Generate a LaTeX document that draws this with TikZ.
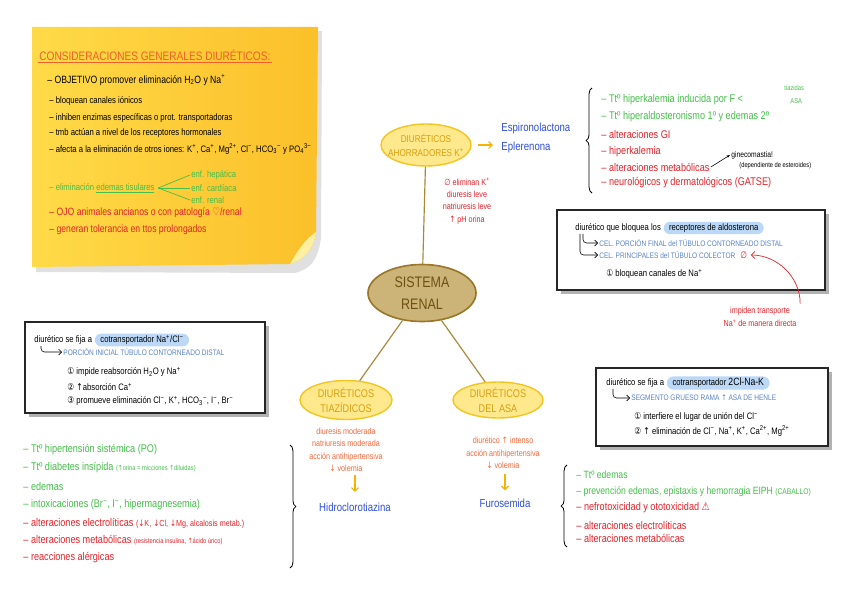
\documentclass[tikz,border=0pt]{standalone}
\usepackage{fontspec}
\setmainfont{Liberation Sans}[FakeStretch=0.82]
\newfontfamily\symf{DejaVu Sans}[FakeStretch=0.82]
\usepackage{tikz}
\usetikzlibrary{arrows.meta,positioning,shapes.geometric,shapes.misc,shadows,decorations.pathreplacing}
\definecolor{stickyA}{HTML}{FFDA48}
\definecolor{stickyB}{HTML}{FBC02A}
\definecolor{stickyC}{HTML}{FFEFA0}
\definecolor{titC}{HTML}{F0602A}
\definecolor{grnC}{HTML}{45BE4A}
\definecolor{redC}{HTML}{E2232A}
\definecolor{orgC}{HTML}{F26A3C}
\definecolor{bluC}{HTML}{2F4FD6}
\definecolor{boxB}{HTML}{5A84C6}
\definecolor{hlC}{HTML}{BBD8F6}
\definecolor{ellF}{HTML}{FFE98C}
\definecolor{ellD}{HTML}{F6C420}
\definecolor{ellT}{HTML}{D8A010}
\definecolor{sisF}{HTML}{CCB479}
\definecolor{sisD}{HTML}{9A7628}
\definecolor{sisT}{HTML}{6E5012}
\definecolor{lineC}{HTML}{A8893A}
\definecolor{arrY}{HTML}{F6B400}
\newcommand{\sy}[1]{{\symf #1}}
\newcommand{\supx}[1]{\textsuperscript{#1}}
\newcommand{\subx}[1]{\textsubscript{#1}}
\tikzset{
  hw/.style={anchor=west,inner sep=1pt,font=\fontsize{8}{10}\selectfont},
  item/.style={anchor=west,inner sep=1pt,font=\fontsize{9.5}{11}\selectfont},
  cel/.style={anchor=west,inner sep=1pt,text=boxB,font=\fontsize{6.8}{8}\selectfont},
  ell/.style={ellipse,draw=ellD,fill=ellF,line width=1.2pt,inner sep=0pt},
  elltxt/.style={text=ellT,align=center,inner sep=0pt},
  eff/.style={text=orgC,align=center,inner sep=1pt,font=\fontsize{7.5}{10.5}\selectfont},
  drug/.style={text=bluC,inner sep=1pt,font=\fontsize{10}{17}\selectfont},
  panel/.style={draw=black!85,fill=white,line width=0.9pt,drop shadow={shadow xshift=1.3mm,shadow yshift=-1.3mm,fill=black!30,opacity=1}},
  hl/.style={rounded rectangle,fill=hlC,inner sep=1.5pt,inner xsep=3pt,font=\fontsize{8}{10}\selectfont},
  link/.style={draw=lineC,line width=1pt},
  yarr/.style={-{Straight Barb[length=3pt]},draw=arrY,line width=1pt},
  hookarr/.style={-{Straight Barb[length=2.5pt]},rounded corners=3pt,line width=0.5pt},
  brc/.style={decorate,decoration={brace,amplitude=5pt},line width=0.7pt},
}

\begin{document}
\begin{tikzpicture}[x=0.03cm,y=-0.03cm]
\fill[white] (0,0) rectangle (848,599);
\useasboundingbox (0,0) rectangle (848,599);
% sticky note
\fill[black!40,opacity=0.3] (36,33) -- (322,31) -- (321,238) .. controls (318,260) and (310,270) .. (294,273) -- (36,272) -- cycle;
\shade[left color=stickyA,right color=stickyB] (32,27) -- (318,27) -- (316,232) .. controls (313,250) and (305,259) .. (290,264) -- (32,267) -- cycle;
\fill[stickyC] (316,232) .. controls (304,240) and (297,252) .. (290,264) .. controls (305,259) and (313,250) .. (316,232) -- cycle;
\node[anchor=west,inner sep=1pt,text=titC,font=\fontsize{10.5}{12}\selectfont] (tit) at (38,55) {CONSIDERACIONES GENERALES DIURÉTICOS:};
\draw[titC,line width=0.8pt] ([yshift=-1pt]tit.south west) -- ([yshift=-1pt]tit.south east);
\node[hw,font=\fontsize{9}{10}\selectfont] (obj) at (46,80) {– OBJETIVO promover eliminación H\subx{2}O y Na\supx{+}};
\foreach \i/\y/\t in {1/101/{– bloquean canales iónicos},2/118/{– inhiben enzimas específicas o prot. transportadoras},3/133/{– tmb actúan a nivel de los receptores hormonales},4/149/{– afecta a la eliminación de otros iones: K\supx{+}, Ca\supx{+}, Mg\supx{2+}, Cl\supx{−}, HCO\subx{3}\supx{−} y PO\subx{4}\supx{3−}}}
  \node[hw] (st\i) at (48,\y) {\t};
\node[hw,text=grnC] (edem) at (48,188) {– eliminación \underline{edemas tisulares}};
\foreach \i/\y/\t in {1/175/{enf. hepática},2/188/{enf. cardíaca},3/200/{enf. renal}}{
  \node[hw,text=grnC] (enf\i) at (190,\y) {\t};
  \draw[grnC,line width=0.6pt] ([xshift=2pt]edem.east) -- (enf\i.west);
}
\node[hw,text=redC,font=\fontsize{9}{10}\selectfont] (ojo) at (48,213) {– OJO animales ancianos o con patología \sy{♡}/renal};
\node[hw,text=redC,font=\fontsize{9}{10}\selectfont] (tol) at (48,230) {– generan tolerancia en ttos prolongados};

% central map
\node[ell,minimum width=2.7cm,minimum height=1.26cm] (ahorr) at (426,145) {};
\node[elltxt,font=\fontsize{8.5}{12}\selectfont] at (ahorr) {DIURÉTICOS\\AHORRADORES K\supx{+}};
\node[ellipse,draw=sisD,fill=sisF,line width=1.4pt,minimum width=3.24cm,minimum height=1.71cm] (sis) at (422,293) {};
\node[text=sisT,align=center,font=\fontsize{13}{19}\selectfont] at (sis) {SISTEMA\\RENAL};
\node[ell,minimum width=2.76cm,minimum height=1.17cm] (tiaz) at (346,400) {};
\node[elltxt,font=\fontsize{9.5}{13}\selectfont] at (tiaz) {DIURÉTICOS\\TIAZÍDICOS};
\node[ell,minimum width=2.7cm,minimum height=1.08cm] (asa) at (498,400) {};
\node[elltxt,font=\fontsize{9.5}{13}\selectfont] at (asa) {DIURÉTICOS\\DEL ASA};
\draw[link] (ahorr) -- (sis);
\draw[link] (sis) -- (tiaz);
\draw[link] (sis) -- (asa);

\node[drug,anchor=west,align=left] (espi) at (500,138) {Espironolactona\\Eplerenona};
\draw[yarr,shorten <=5pt,shorten >=6pt] (ahorr.east) -- (ahorr.east -| espi.west);
\node[eff,text=redC] (effA) at (467,201) {\sy{∅} eliminan K\supx{+}\\diuresis leve\\natriuresis leve\\\sy{↑} pH orina};
\node[eff] (effT) at (346,450) {diuresis moderada\\natriuresis moderada\\acción antihipertensiva\\\sy{↓} volemia};
\node[eff] (effS) at (503,453) {diurético \sy{↑} intenso\\acción antihipertensiva\\\sy{↓} volemia};
\node[drug] (hidro) at (355,507) {Hidroclorotiazina};
\node[drug] (furo) at (505,503) {Furosemida};
\draw[yarr,shorten <=2pt,shorten >=8pt] (effT.south -| hidro) -- (hidro.north);
\draw[yarr,shorten <=3pt,shorten >=6pt] (effS.south -| furo) -- (furo.north);

% top right list
\foreach \i/\y/\t in {1/100/{– Ttº hiperkalemia inducida por F <},2/117/{– Ttº hiperaldosteronismo 1º y edemas 2º}}
  \node[item,text=grnC] (tr\i) at (600,\y) {\t};
\foreach \i/\y/\t in {3/135/{– alteraciones GI},4/152/{– hiperkalemia},5/167/{– alteraciones metabólicas},6/183/{– neurológicos y dermatológicos (GATSE)}}
  \node[item,text=redC] (tr\i) at (600,\y) {\t};
\node[hw,text=grnC,font=\fontsize{6}{7}\selectfont] (tzd) at (783,88) {tiazidas};
\node[hw,text=grnC,font=\fontsize{6}{7}\selectfont] (asaS) at (789,101) {ASA};
\node[hw,font=\fontsize{7}{8}\selectfont] (gin) at (730,155) {ginecomastia!};
\node[hw,font=\fontsize{6}{7}\selectfont] (dep) at (738,166) {(dependiente de esteroides)};
\draw[-{Stealth[length=3pt]},line width=0.5pt] (tr5.east) -- (gin.west);
\coordinate (bA) at (592,193);
\coordinate (bB) at (592,88);
\draw[brc] (bA) -- (bB);

% box aldosterona
\node[panel,minimum width=8.04cm,minimum height=2.4cm] (boxR) at (691,250) {};
\node[hw] (dirR) at (574,228) {diurético que bloquea los};
\node[hl,right=1pt of dirR] (recR) {receptores de aldosterona};
\node[cel] (celR1) at (598,243) {CEL. PORCIÓN FINAL del TÚBULO CONTORNEADO DISTAL};
\node[cel] (celR2) at (598,255) {CEL. PRINCIPALES del TÚBULO COLECTOR};
\node[hw,text=redC,right=2pt of celR2] (zeroR) {\sy{∅}};
\draw[hookarr] ([xshift=0.27cm]dirR.south west) |- (celR1.west);
\draw[hookarr] ([xshift=0.18cm]dirR.south west) |- (celR2.west);
\node[hw] (blkR) at (605,274) {\sy{①} bloquean canales de Na\supx{+}};
\node[eff,text=redC,font=\fontsize{7.5}{11}\selectfont] (imp) at (760,317) {impiden transporte\\Na\supx{+} de manera directa};
\draw[-{Straight Barb[length=3pt]},redC,line width=0.6pt,shorten >=2pt] ([xshift=2pt,yshift=2pt]imp.north east) to[out=90,in=0] (zeroR.east);

% box tiazidas
\node[panel,minimum width=7.2cm,minimum height=2.73cm] (boxL) at (145,367.5) {};
\node[hw] (dirL) at (33,340) {diurético se fija a};
\node[hl,right=1pt of dirL] (cotL) {cotransportador Na\supx{+}/Cl\supx{−}};
\node[cel] (porL) at (62,352) {PORCIÓN INICIAL TÚBULO CONTORNEADO DISTAL};
\draw[hookarr] ([xshift=0.24cm]dirL.south west) |- (porL.west);
\foreach \i/\y/\t in {1/372/{\sy{①} impide reabsorción H\subx{2}O y Na\supx{+}},2/387/{\sy{②} \sy{↑}absorción Ca\supx{+}},3/401/{\sy{③} promueve eliminación Cl\supx{−}, K\supx{+}, HCO\subx{3}\supx{−}, I\supx{−}, Br\supx{−}}}
  \node[hw] (bl\i) at (66,\y) {\t};

% box asa
\node[panel,minimum width=6.96cm,minimum height=2.34cm] (boxM) at (712,407) {};
\node[hw] (dirM) at (605,383) {diurético se fija a};
\node[hl,right=1pt of dirM] (cotM) {cotransportador \fontsize{9}{10}\selectfont 2Cl-Na-K};
\node[cel] (segM) at (630,398) {SEGMENTO GRUESO RAMA \sy{↑} ASA DE HENLE};
\draw[hookarr] ([xshift=0.24cm]dirM.south west) |- (segM.west);
\foreach \i/\y/\t in {1/417/{\sy{①} interfiere el lugar de unión del Cl\supx{−}},2/431/{\sy{②} \sy{↑} eliminación de Cl\supx{−}, Na\supx{+}, K\supx{+}, Ca\supx{2+}, Mg\supx{2+}}}
  \node[hw] (bm\i) at (633,\y) {\t};

% bottom left list
\foreach \i/\y/\t in {1/450/{– Ttº hipertensión sistémica (PO)},2/468/{– Ttº diabetes insípida {\fontsize{6}{7}\selectfont(\sy{↑}orina = micciones \sy{↑}diluidas)}},3/487/{– edemas},4/505/{– intoxicaciones (Br\supx{−}, I\supx{−}, hipermagnesemia)}}
  \node[item,text=grnC] (ll\i) at (22,\y) {\t};
\foreach \i/\y/\t in {5/523/{– alteraciones electrolíticas {\fontsize{7.5}{8}\selectfont(\sy{↓}K, \sy{↓}Cl, \sy{↓}Mg, alcalosis metab.)}},6/540/{– alteraciones metabólicas {\fontsize{6}{7}\selectfont(resistencia insulina, \sy{↑}ácido úrico)}},7/558/{– reacciones alérgicas}}
  \node[item,text=redC] (ll\i) at (22,\y) {\t};
\coordinate (bC) at (290,445);
\coordinate (bD) at (290,568);
\draw[brc] (bC) -- (bD);

% bottom right list
\foreach \i/\y/\t in {1/475/{– Ttº edemas},2/492/{– prevención edemas, epistaxis y hemorragia EIPH {\fontsize{7}{8}\selectfont(CABALLO)}}}
  \node[item,text=grnC,font=\fontsize{9}{10}\selectfont] (lr\i) at (575,\y) {\t};
\foreach \i/\y/\t in {3/508/{– nefrotoxicidad y ototoxicidad \sy{⚠}},4/525/{– alteraciones electrolíticas},5/538/{– alteraciones metabólicas}}
  \node[item,text=redC] (lr\i) at (575,\y) {\t};
\coordinate (bE) at (567,547);
\coordinate (bF) at (567,465);
\draw[brc] (bE) -- (bF);
\end{tikzpicture}
\end{document}
